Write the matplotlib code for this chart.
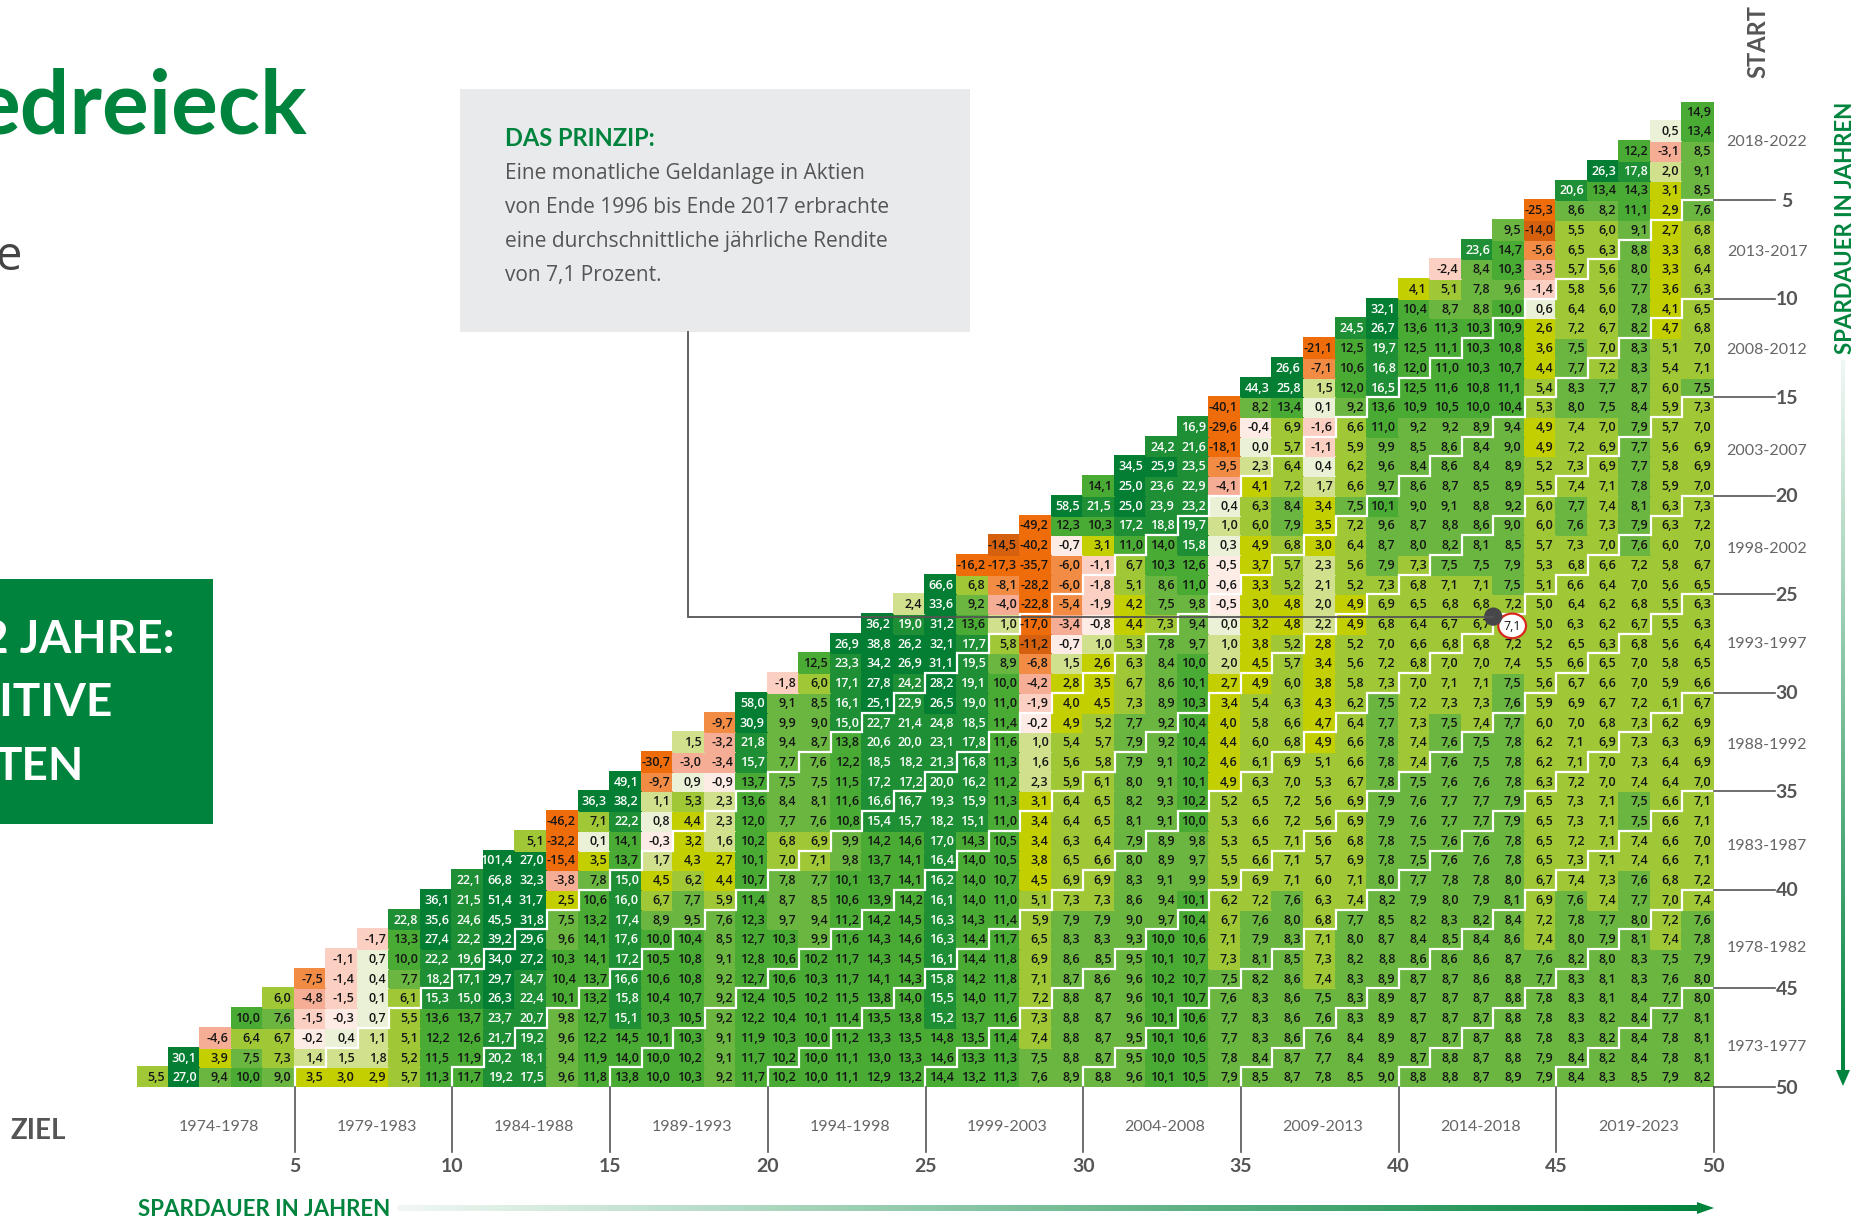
import numpy as np
import matplotlib
matplotlib.use("Agg")
import matplotlib.pyplot as plt
from matplotlib.colors import ListedColormap, BoundaryNorm
from matplotlib.patches import Ellipse, Polygon, Rectangle

# Returns per savings row, counted from the bottom of the triangle
row_01 = [5.5, 27.0, 9.4, 10.0, 9.0, 3.5, 3.0, 2.9, 5.7, 11.3, 11.7, 19.2, 17.5, 9.6, 11.8, 13.8, 10.0, 10.3, 9.2, 11.7, 10.2, 10.0, 11.1, 12.9, 13.2, 14.4, 13.2, 11.3, 7.6, 8.9, 8.8, 9.6, 10.1, 10.5, 7.9, 8.5, 8.7, 7.8, 8.5, 9.0, 8.8, 8.8, 8.7, 8.9, 7.9, 8.4, 8.3, 8.5, 7.9, 8.2]
row_02 = [30.1, 3.9, 7.5, 7.3, 1.4, 1.5, 1.8, 5.2, 11.5, 11.9, 20.2, 18.1, 9.4, 11.9, 14.0, 10.0, 10.2, 9.1, 11.7, 10.2, 10.0, 11.1, 13.0, 13.3, 14.6, 13.3, 11.3, 7.5, 8.8, 8.7, 9.5, 10.0, 10.5, 7.8, 8.4, 8.7, 7.7, 8.4, 8.9, 8.7, 8.8, 8.7, 8.8, 7.9, 8.4, 8.2, 8.4, 7.8, 8.1]
row_03 = [-4.6, 6.4, 6.7, -0.2, 0.4, 1.1, 5.1, 12.2, 12.6, 21.7, 19.2, 9.6, 12.2, 14.5, 10.1, 10.3, 9.1, 11.9, 10.3, 10.0, 11.2, 13.3, 13.5, 14.8, 13.5, 11.4, 7.4, 8.8, 8.7, 9.5, 10.1, 10.6, 7.7, 8.3, 8.6, 7.6, 8.4, 8.9, 8.7, 8.7, 8.7, 8.8, 7.8, 8.3, 8.2, 8.4, 7.8, 8.1]
row_04 = [10.0, 7.6, -1.5, -0.3, 0.7, 5.5, 13.6, 13.7, 23.7, 20.7, 9.8, 12.7, 15.1, 10.3, 10.5, 9.2, 12.2, 10.4, 10.1, 11.4, 13.5, 13.8, 15.2, 13.7, 11.6, 7.3, 8.8, 8.7, 9.6, 10.1, 10.6, 7.7, 8.3, 8.6, 7.6, 8.3, 8.9, 8.7, 8.7, 8.7, 8.8, 7.8, 8.3, 8.2, 8.4, 7.7, 8.1]
row_05 = [6.0, -4.8, -1.5, 0.1, 6.1, 15.3, 15.0, 26.3, 22.4, 10.1, 13.2, 15.8, 10.4, 10.7, 9.2, 12.4, 10.5, 10.2, 11.5, 13.8, 14.0, 15.5, 14.0, 11.7, 7.2, 8.8, 8.7, 9.6, 10.1, 10.7, 7.6, 8.3, 8.6, 7.5, 8.3, 8.9, 8.7, 8.7, 8.7, 8.8, 7.8, 8.3, 8.1, 8.4, 7.7, 8.0]
row_06 = [-7.5, -1.4, 0.4, 7.7, 18.2, 17.1, 29.7, 24.7, 10.4, 13.7, 16.6, 10.6, 10.8, 9.2, 12.7, 10.6, 10.3, 11.7, 14.1, 14.3, 15.8, 14.2, 11.8, 7.1, 8.7, 8.6, 9.6, 10.2, 10.7, 7.5, 8.2, 8.6, 7.4, 8.3, 8.9, 8.7, 8.7, 8.6, 8.8, 7.7, 8.3, 8.1, 8.3, 7.6, 8.0]
row_07 = [-1.1, 0.7, 10.0, 22.2, 19.6, 34.0, 27.2, 10.3, 14.1, 17.2, 10.5, 10.8, 9.1, 12.8, 10.6, 10.2, 11.7, 14.3, 14.5, 16.1, 14.4, 11.8, 6.9, 8.6, 8.5, 9.5, 10.1, 10.7, 7.3, 8.1, 8.5, 7.3, 8.2, 8.8, 8.6, 8.6, 8.6, 8.7, 7.6, 8.2, 8.0, 8.3, 7.5, 7.9]
row_08 = [-1.7, 13.3, 27.4, 22.2, 39.2, 29.6, 9.6, 14.1, 17.6, 10.0, 10.4, 8.5, 12.7, 10.3, 9.9, 11.6, 14.3, 14.6, 16.3, 14.4, 11.7, 6.5, 8.3, 8.3, 9.3, 10.0, 10.6, 7.1, 7.9, 8.3, 7.1, 8.0, 8.7, 8.4, 8.5, 8.4, 8.6, 7.4, 8.0, 7.9, 8.1, 7.4, 7.8]
row_09 = [22.8, 35.6, 24.6, 45.5, 31.8, 7.5, 13.2, 17.4, 8.9, 9.5, 7.6, 12.3, 9.7, 9.4, 11.2, 14.2, 14.5, 16.3, 14.3, 11.4, 5.9, 7.9, 7.9, 9.0, 9.7, 10.4, 6.7, 7.6, 8.0, 6.8, 7.7, 8.5, 8.2, 8.3, 8.2, 8.4, 7.2, 7.8, 7.7, 8.0, 7.2, 7.6]
row_10 = [36.1, 21.5, 51.4, 31.7, 2.5, 10.6, 16.0, 6.7, 7.7, 5.9, 11.4, 8.7, 8.5, 10.6, 13.9, 14.2, 16.1, 14.0, 11.0, 5.1, 7.3, 7.3, 8.6, 9.4, 10.1, 6.2, 7.2, 7.6, 6.3, 7.4, 8.2, 7.9, 8.0, 7.9, 8.1, 6.9, 7.6, 7.4, 7.7, 7.0, 7.4]
row_11 = [22.1, 66.8, 32.3, -3.8, 7.8, 15.0, 4.5, 6.2, 4.4, 10.7, 7.8, 7.7, 10.1, 13.7, 14.1, 16.2, 14.0, 10.7, 4.5, 6.9, 6.9, 8.3, 9.1, 9.9, 5.9, 6.9, 7.1, 6.0, 7.1, 8.0, 7.7, 7.8, 7.8, 8.0, 6.7, 7.4, 7.3, 7.6, 6.8, 7.2]
row_12 = [101.4, 27.0, -15.4, 3.5, 13.7, 1.7, 4.3, 2.7, 10.1, 7.0, 7.1, 9.8, 13.7, 14.1, 16.4, 14.0, 10.5, 3.8, 6.5, 6.6, 8.0, 8.9, 9.7, 5.5, 6.6, 7.1, 5.7, 6.9, 7.8, 7.5, 7.6, 7.6, 7.8, 6.5, 7.3, 7.1, 7.4, 6.6, 7.1]
row_13 = [5.1, -32.2, 0.1, 14.1, -0.3, 3.2, 1.6, 10.2, 6.8, 6.9, 9.9, 14.2, 14.6, 17.0, 14.3, 10.5, 3.4, 6.3, 6.4, 7.9, 8.9, 9.8, 5.3, 6.5, 7.1, 5.6, 6.8, 7.8, 7.5, 7.6, 7.6, 7.8, 6.5, 7.2, 7.1, 7.4, 6.6, 7.0]
row_14 = [-46.2, 7.1, 22.2, 0.8, 4.4, 2.3, 12.0, 7.7, 7.6, 10.8, 15.4, 15.7, 18.2, 15.1, 11.0, 3.4, 6.4, 6.5, 8.1, 9.1, 10.0, 5.3, 6.6, 7.2, 5.6, 6.9, 7.9, 7.6, 7.7, 7.7, 7.9, 6.5, 7.3, 7.1, 7.5, 6.6, 7.1]
row_15 = [36.3, 38.2, 1.1, 5.3, 2.3, 13.6, 8.4, 8.1, 11.6, 16.6, 16.7, 19.3, 15.9, 11.3, 3.1, 6.4, 6.5, 8.2, 9.3, 10.2, 5.2, 6.5, 7.2, 5.6, 6.9, 7.9, 7.6, 7.7, 7.7, 7.9, 6.5, 7.3, 7.1, 7.5, 6.6, 7.1]
row_16 = [49.1, -9.7, 0.9, -0.9, 13.7, 7.5, 7.5, 11.5, 17.2, 17.2, 20.0, 16.2, 11.2, 2.3, 5.9, 6.1, 8.0, 9.1, 10.1, 4.9, 6.3, 7.0, 5.3, 6.7, 7.8, 7.5, 7.6, 7.6, 7.8, 6.3, 7.2, 7.0, 7.4, 6.4, 7.0]
row_17 = [-30.7, -3.0, -3.4, 15.7, 7.7, 7.6, 12.2, 18.5, 18.2, 21.3, 16.8, 11.3, 1.6, 5.6, 5.8, 7.9, 9.1, 10.2, 4.6, 6.1, 6.9, 5.1, 6.6, 7.8, 7.4, 7.6, 7.5, 7.8, 6.2, 7.1, 7.0, 7.3, 6.4, 6.9]
row_18 = [1.5, -3.2, 21.8, 9.4, 8.7, 13.8, 20.6, 20.0, 23.1, 17.8, 11.6, 1.0, 5.4, 5.7, 7.9, 9.2, 10.4, 4.4, 6.0, 6.8, 4.9, 6.6, 7.8, 7.4, 7.6, 7.5, 7.8, 6.2, 7.1, 6.9, 7.3, 6.3, 6.9]
row_19 = [-9.7, 30.9, 9.9, 9.0, 15.0, 22.7, 21.4, 24.8, 18.5, 11.4, -0.2, 4.9, 5.2, 7.7, 9.2, 10.4, 4.0, 5.8, 6.6, 4.7, 6.4, 7.7, 7.3, 7.5, 7.4, 7.7, 6.0, 7.0, 6.8, 7.3, 6.2, 6.9]
row_20 = [58.0, 9.1, 8.5, 16.1, 25.1, 22.9, 26.5, 19.0, 11.0, -1.9, 4.0, 4.5, 7.3, 8.9, 10.3, 3.4, 5.4, 6.3, 4.3, 6.2, 7.5, 7.2, 7.3, 7.3, 7.6, 5.9, 6.9, 6.7, 7.2, 6.1, 6.7]
row_21 = [-1.8, 6.0, 17.1, 27.8, 24.2, 28.2, 19.1, 10.0, -4.2, 2.8, 3.5, 6.7, 8.6, 10.1, 2.7, 4.9, 6.0, 3.8, 5.8, 7.3, 7.0, 7.1, 7.1, 7.5, 5.6, 6.7, 6.6, 7.0, 5.9, 6.6]
row_22 = [12.5, 23.3, 34.2, 26.9, 31.1, 19.5, 8.9, -6.8, 1.5, 2.6, 6.3, 8.4, 10.0, 2.0, 4.5, 5.7, 3.4, 5.6, 7.2, 6.8, 7.0, 7.0, 7.4, 5.5, 6.6, 6.5, 7.0, 5.8, 6.5]
row_23 = [26.9, 38.8, 26.2, 32.1, 17.7, 5.8, -11.2, -0.7, 1.0, 5.3, 7.8, 9.7, 1.0, 3.8, 5.2, 2.8, 5.2, 7.0, 6.6, 6.8, 6.8, 7.2, 5.2, 6.5, 6.3, 6.8, 5.6, 6.4]
row_24 = [36.2, 19.0, 31.2, 13.6, 1.0, -17.0, -3.4, -0.8, 4.4, 7.3, 9.4, 0.0, 3.2, 4.8, 2.2, 4.9, 6.8, 6.4, 6.7, 6.7, 7.1, 5.0, 6.3, 6.2, 6.7, 5.5, 6.3]
row_25 = [2.4, 33.6, 9.2, -4.0, -22.8, -5.4, -1.9, 4.2, 7.5, 9.8, -0.5, 3.0, 4.8, 2.0, 4.9, 6.9, 6.5, 6.8, 6.8, 7.2, 5.0, 6.4, 6.2, 6.8, 5.5, 6.3]
row_26 = [66.6, 6.8, -8.1, -28.2, -6.0, -1.8, 5.1, 8.6, 11.0, -0.6, 3.3, 5.2, 2.1, 5.2, 7.3, 6.8, 7.1, 7.1, 7.5, 5.1, 6.6, 6.4, 7.0, 5.6, 6.5]
row_27 = [-16.2, -17.3, -35.7, -6.0, -1.1, 6.7, 10.3, 12.6, -0.5, 3.7, 5.7, 2.3, 5.6, 7.9, 7.3, 7.5, 7.5, 7.9, 5.3, 6.8, 6.6, 7.2, 5.8, 6.7]
row_28 = [-14.5, -40.2, -0.7, 3.1, 11.0, 14.0, 15.8, 0.3, 4.9, 6.8, 3.0, 6.4, 8.7, 8.0, 8.2, 8.1, 8.5, 5.7, 7.3, 7.0, 7.6, 6.0, 7.0]
row_29 = [-49.2, 12.3, 10.3, 17.2, 18.8, 19.7, 1.0, 6.0, 7.9, 3.5, 7.2, 9.6, 8.7, 8.8, 8.6, 9.0, 6.0, 7.6, 7.3, 7.9, 6.3, 7.2]
row_30 = [58.5, 21.5, 25.0, 23.9, 23.2, 0.4, 6.3, 8.4, 3.4, 7.5, 10.1, 9.0, 9.1, 8.8, 9.2, 6.0, 7.7, 7.4, 8.1, 6.3, 7.3]
row_31 = [14.1, 25.0, 23.6, 22.9, -4.1, 4.1, 7.2, 1.7, 6.6, 9.7, 8.6, 8.7, 8.5, 8.9, 5.5, 7.4, 7.1, 7.8, 5.9, 7.0]
row_32 = [34.5, 25.9, 23.5, -9.5, 2.3, 6.4, 0.4, 6.2, 9.6, 8.4, 8.6, 8.4, 8.9, 5.2, 7.3, 6.9, 7.7, 5.8, 6.9]
row_33 = [24.2, 21.6, -18.1, 0.0, 5.7, -1.1, 5.9, 9.9, 8.5, 8.6, 8.4, 9.0, 4.9, 7.2, 6.9, 7.7, 5.6, 6.9]
row_34 = [16.9, -29.6, -0.4, 6.9, -1.6, 6.6, 11.0, 9.2, 9.2, 8.9, 9.4, 4.9, 7.4, 7.0, 7.9, 5.7, 7.0]
row_35 = [-40.1, 8.2, 13.4, 0.1, 9.2, 13.6, 10.9, 10.5, 10.0, 10.4, 5.3, 8.0, 7.5, 8.4, 5.9, 7.3]
row_36 = [44.3, 25.8, 1.5, 12.0, 16.5, 12.5, 11.6, 10.8, 11.1, 5.4, 8.3, 7.7, 8.7, 6.0, 7.5]
row_37 = [26.6, -7.1, 10.6, 16.8, 12.0, 11.0, 10.3, 10.7, 4.4, 7.7, 7.2, 8.3, 5.4, 7.1]
row_38 = [-21.1, 12.5, 19.7, 12.5, 11.1, 10.3, 10.8, 3.6, 7.5, 7.0, 8.3, 5.1, 7.0]
row_39 = [24.5, 26.7, 13.6, 11.3, 10.3, 10.9, 2.6, 7.2, 6.7, 8.2, 4.7, 6.8]
row_40 = [32.1, 10.4, 8.7, 8.8, 10.0, 0.6, 6.4, 6.0, 7.8, 4.1, 6.5]
row_41 = [4.1, 5.1, 7.8, 9.6, -1.4, 5.8, 5.6, 7.7, 3.6, 6.3]
row_42 = [-2.4, 8.4, 10.3, -3.5, 5.7, 5.6, 8.0, 3.3, 6.4]
row_43 = [23.6, 14.7, -5.6, 6.5, 6.3, 8.8, 3.3, 6.8]
row_44 = [9.5, -14.0, 5.5, 6.0, 9.1, 2.7, 6.8]
row_45 = [-25.3, 8.6, 8.2, 11.1, 2.9, 7.6]
row_46 = [20.6, 13.4, 14.3, 3.1, 8.5]
row_47 = [26.3, 17.8, 2.0, 9.1]
row_48 = [12.2, -3.1, 8.5]
row_49 = [0.5, 13.4]
row_50 = [14.9]

rows = [row_01, row_02, row_03, row_04, row_05, row_06, row_07, row_08, row_09, row_10,
        row_11, row_12, row_13, row_14, row_15, row_16, row_17, row_18, row_19, row_20,
        row_21, row_22, row_23, row_24, row_25, row_26, row_27, row_28, row_29, row_30,
        row_31, row_32, row_33, row_34, row_35, row_36, row_37, row_38, row_39, row_40,
        row_41, row_42, row_43, row_44, row_45, row_46, row_47, row_48, row_49, row_50]

ziel_labels = ["1974-1978", "1979-1983", "1984-1988", "1989-1993", "1994-1998",
               "1999-2003", "2004-2008", "2009-2013", "2014-2018", "2019-2023"]
start_labels = ["2018-2022", "2013-2017", "2008-2012", "2003-2007", "1998-2002",
                "1993-1997", "1988-1992", "1983-1987", "1978-1982", "1973-1977"]
duration_ticks = [5, 10, 15, 20, 25, 30, 35, 40, 45, 50]

# Colour classes of the return values
class_edges = [-60, -15, -10, -5, -2.5, -1, 0, 1, 2.5, 5, 7.5, 10, 15, 25, 110]
class_colors = ["#EE6C0A", "#D5600E", "#F28C45", "#F6AD96", "#FBCFC1", "#FDEBE5", "#EBF1D6",
                "#D1E08C", "#C3CF00", "#A0C836", "#6BB541", "#49AB34", "#1F8F36", "#037E32"]

GREEN = "#00843D"
GREY = "#555555"
NARROW = ["Lato", "Open Sans", "DejaVu Sans"]
BODY = ["Open Sans", "DejaVu Sans"]

for i, r in enumerate(rows):
    if len(r) != 50 - i:
        raise ValueError(f"row {i + 1} has {len(r)} values")

grid = np.full((50, 50), np.nan)
for i, r in enumerate(rows):
    grid[i, i:] = r

W, H = 1875, 1216
X0, X1, Y_TOP, Y_BOT = 137, 1714, 101.7, 1087

fig = plt.figure(figsize=(W / 100, H / 100), dpi=100, facecolor="white")

# triangle
ax = fig.add_axes([X0 / W, 1 - Y_BOT / H, (X1 - X0) / W, (Y_BOT - Y_TOP) / H])
ax.set_xlim(0, 50)
ax.set_ylim(0, 50)
ax.axis("off")
cmap = ListedColormap(class_colors)
norm = BoundaryNorm(class_edges, cmap.N)
ax.pcolormesh(np.arange(51), np.arange(51), np.ma.masked_invalid(grid), cmap=cmap, norm=norm,
              edgecolors="face", linewidth=0.3)

for i, r in enumerate(rows):
    for k, v in enumerate(r):
        col = i + k
        ax.text(col + 0.9, i + 0.47, f"{v:.1f}".replace(".", ","), ha="right", va="center",
                fontsize=9, family=BODY, weight="semibold",
                color="white" if v >= 15 else "#151515", zorder=3)

# white stairs every five years
for start in duration_ticks[:-1]:
    ax.step(np.arange(start, 51), np.arange(0, 51 - start), where="pre", color="white",
            lw=1.6, zorder=2, solid_joinstyle="miter", clip_on=False)

# example cell: 7,1 percent
ax.add_patch(Ellipse((43.6, 23.4), 0.88, 1.25, facecolor="white", edgecolor="#D6281E", lw=1.6, zorder=5))
ax.text(43.6, 23.38, "7,1", ha="center", va="center", fontsize=9, family=BODY, color="#151515", zorder=6)
ax.add_patch(Ellipse((43.0, 23.87), 0.58, 0.93, facecolor="#47474A", edgecolor="none", zorder=5))

# everything else in pixel coordinates
deco = fig.add_axes([0, 0, 1, 1], zorder=2)
deco.set_xlim(0, W)
deco.set_ylim(H, 0)
deco.axis("off")

deco.text(307, 134, "edreieck", ha="right", va="baseline", fontsize=63, family=NARROW, weight="bold", color=GREEN)
deco.text(22, 257, "e", ha="right", va="center", fontsize=34, family=BODY, color="#444444")

# principle box
deco.add_patch(Rectangle((460, 88.5), 510, 243.5, facecolor="#E9EAEC", edgecolor="none"))
deco.text(505, 139, "DAS PRINZIP:", ha="left", va="center", fontsize=17, family=NARROW, weight="bold", color=GREEN)
for y, line in zip([173.7, 207.7, 241, 275],
                   ["Eine monatliche Geldanlage in Aktien", "von Ende 1996 bis Ende 2017 erbrachte",
                    "eine durchschnittliche jährliche Rendite", "von 7,1 Prozent."]):
    deco.text(505, y, line, ha="left", va="center", fontsize=15, family=BODY, color="#555555")
deco.plot([688, 688, 1493], [332, 617, 617], color="#555555", lw=1.3, solid_joinstyle="miter")

# green box
deco.add_patch(Rectangle((0, 578.5), 213, 245, facecolor=GREEN, edgecolor="none"))
for y, x, line in zip([640, 703, 767], [175, 113, 84], ["2 JAHRE:", "SITIVE", "TEN"]):
    deco.text(x, y, line, ha="right", va="center", fontsize=33, family=NARROW, weight="bold", color="white")

# bottom axis
cell_w = (X1 - X0) / 50
cell_h = (Y_BOT - Y_TOP) / 50
for t, lab in zip(duration_ticks, ziel_labels):
    x = X0 + t * cell_w
    deco.plot([x, x], [Y_BOT, 1152], color="#555555", lw=1.2)
    deco.text(x, 1166, str(t), ha="center", va="center", fontsize=14, family=NARROW, weight="bold", color=GREY)
    deco.text(x - 2.5 * cell_w + 3, 1127, lab, ha="center", va="center", fontsize=11.5, family=NARROW, color="#666666")

# right axis
label_y = [142, 252, 350, 451, 549, 644, 745, 846, 948, 1047]
for t, lab, y in zip(duration_ticks, start_labels, label_y):
    yy = Y_TOP + t * cell_h
    deco.plot([X1, 1775], [yy, yy], color="#555555", lw=1.2)
    deco.text(1787, yy + 1, str(t), ha="center", va="center", fontsize=14, family=NARROW, weight="bold", color=GREY)
    deco.text(1767, y, lab, ha="center", va="center", fontsize=11.5, family=NARROW, color="#666666")

deco.text(38, 1131, "ZIEL", ha="center", va="center", fontsize=20, family=NARROW, weight="bold", color=GREY)
deco.text(1758, 42, "START", ha="center", va="center", rotation=90, fontsize=17, family=NARROW, weight="bold", color=GREY)

deco.text(138, 1209, "SPARDAUER IN JAHREN", ha="left", va="center", fontsize=16, family=NARROW, weight="bold", color=GREEN)
deco.text(1846, 228, "SPARDAUER IN JAHREN", ha="center", va="center", rotation=90, fontsize=16, family=NARROW, weight="bold", color=GREEN)

# fading arrows
rgb = matplotlib.colors.to_rgb(GREEN)
fade = np.linspace(0.06, 1, 256)
rgba = np.zeros((1, 256, 4))
rgba[..., :3] = rgb
rgba[..., 3] = fade
deco.imshow(rgba, extent=(398, 1700, 1211, 1205), aspect="auto", interpolation="bilinear")
deco.add_patch(Polygon([(1697, 1202), (1714, 1208), (1697, 1214)], facecolor=GREEN, edgecolor="none"))
deco.imshow(rgba.transpose(1, 0, 2), extent=(1841, 1845, 1072, 360), aspect="auto", interpolation="bilinear")
deco.add_patch(Polygon([(1836, 1070), (1843, 1086), (1850, 1070)], facecolor=GREEN, edgecolor="none"))
deco.set_xlim(0, W)
deco.set_ylim(H, 0)

fig.savefig("out.png", dpi=100)
